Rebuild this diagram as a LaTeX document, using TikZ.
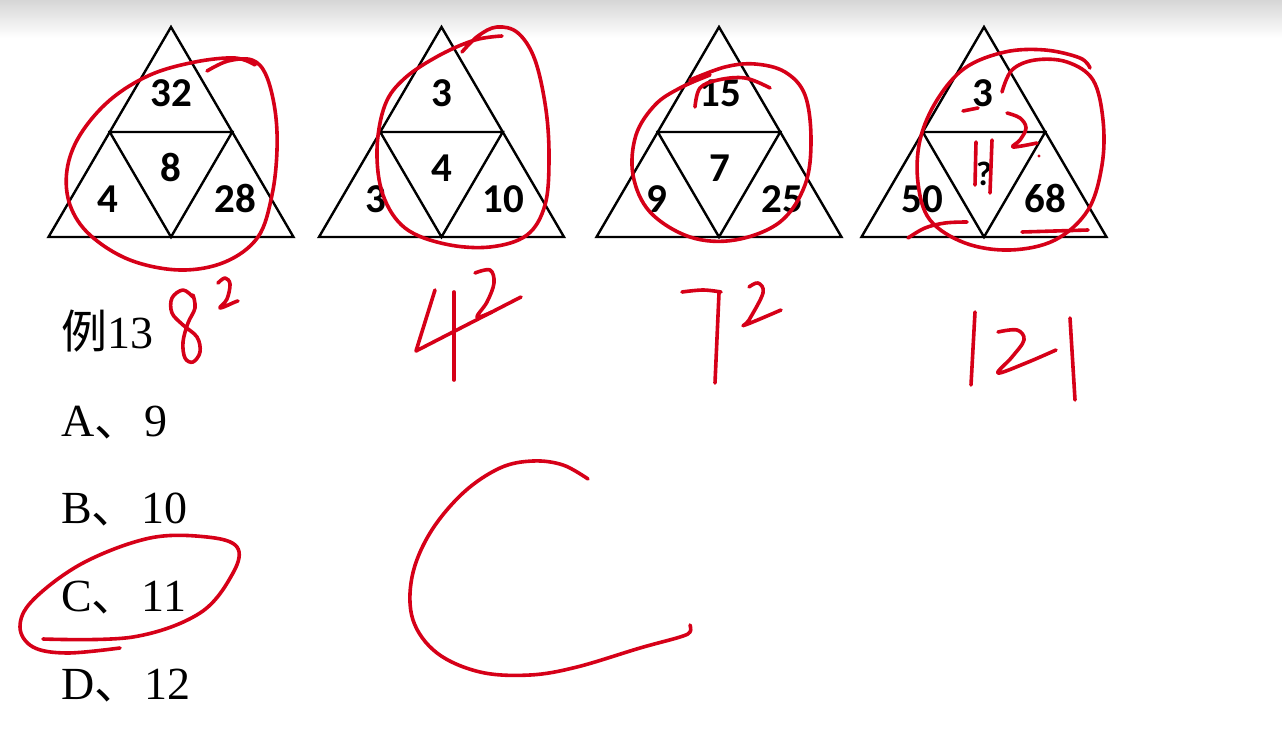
\documentclass[tikz,border=0pt]{standalone}
\usepackage{fontspec}
\setmainfont{Liberation Serif}
\newfontfamily\cjk{Noto Sans CJK SC}
\newfontfamily\calib{Carlito}
\definecolor{ink}{RGB}{214,0,24}
\newcommand{\dun}{{\cjk 、}\hspace{4pt}}
\begin{document}
\begin{tikzpicture}[x=1pt,y=-1pt,
  tri/.style={line width=2.4pt,line join=miter},
  num/.style={font=\calib\bfseries\fontsize{41}{41}\selectfont,anchor=base,inner sep=0pt},
  qm/.style={font=\calib\bfseries\fontsize{34}{34}\selectfont,anchor=base,inner sep=0pt},
  opt/.style={font=\fontsize{46}{46}\selectfont,anchor=base west,inner sep=0pt},
  hand/.style={draw=ink,line width=3.6pt,line cap=round,line join=round}]
\useasboundingbox (0,0) rectangle (1282,738);
\fill[white] (0,0) rectangle (1282,738);
\shade[top color=black!16,bottom color=white] (0,0) rectangle (1282,38);
% triangles
\foreach \cx in {171,441.5,719,984}{
  \draw[tri] (\cx,27) -- (\cx-122.5,237) -- (\cx+122.5,237) -- cycle;
  \draw[tri] (\cx-61.25,132) -- (\cx+61.25,132) -- (\cx,237) -- cycle;
}
% numbers
\node[num] (a1) at (171,107) {32};
\node[num] (a2) at (171,182) {8};
\node[num] (a3) at (108,213) {4};
\node[num] (a4) at (235,213) {28};
\node[num] (b1) at (442,107) {3};
\node[num] (b2) at (442,182) {4};
\node[num] (b3) at (376,213) {3};
\node[num] (b4) at (503,213) {10};
\node[num] (c1) at (720,107) {15};
\node[num] (c2) at (720,182) {7};
\node[num] (c3) at (657,213) {9};
\node[num] (c4) at (782,213) {25};
\node[num] (d1) at (983,107) {3};
\node[qm]  (d2) at (984,186) {?};
\node[num] (d3) at (922,213) {50};
\node[num] (d4) at (1045,213) {68};
% question text
\node[opt] (q)  at (61,348) {{\cjk 例}13};
\node[opt] (oA) at (61,436) {A\dun 9};
\node[opt] (oB) at (61,523) {B\dun 10};
\node[opt] (oC) at (61,611) {C\dun 11};
\node[opt] (oD) at (61,699) {D\dun 12};
% red handwriting
\draw[hand] plot[smooth,tension=0.6] coordinates {(207,71) (228,61) (252,60) (266,75) (275,110) (277,150) (272,195) (258,237) (225,262) (180,270) (130,260) (90,235) (70,205) (67,170) (80,135) (110,100) (150,75) (195,62) (235,58) (255,65)};
\draw[hand] plot[smooth,tension=0.6] coordinates {(462,52) (478,36) (497,27) (518,33) (535,60) (546,110) (549,160) (545,205) (527,235) (490,247) (445,244) (405,228) (383,195) (377,150) (385,105) (405,78) (440,55) (475,40) (502,36)};
\draw[hand] plot[smooth,tension=0.6] coordinates {(695,107) (700,88) (718,80) (745,78) (770,88)};
\draw[hand] plot[smooth,tension=0.6] coordinates {(690,80) (725,67) (755,64) (785,72) (805,95) (811,140) (805,185) (780,222) (735,240) (690,237) (650,212) (633,175) (636,135) (655,105) (680,88) (710,75)};
\draw[hand] plot[smooth,tension=0.6] coordinates {(1002,92) (1012,70) (1035,60) (1067,62) (1093,80) (1103,120) (1102,165) (1088,210) (1055,240) (1010,250) (965,243) (930,220) (918,183) (920,140) (937,100) (965,68) (1005,52) (1045,50) (1080,58) (1090,68)};
\draw[hand] (963,111) -- (978,108);
\draw[hand] plot[smooth,tension=0.6] coordinates {(1007,113) (1020,118) (1026,128) (1020,140) (1013,147) (1037,143)};
\fill[ink] (1039,156) circle (1.6);
\draw[hand] (976,142) -- (975,185);
\draw[hand] (992,140) -- (990,193);
\draw[hand] plot[smooth,tension=0.6] coordinates {(908,238) (925,228) (945,223) (967,222)};
\draw[hand] plot[smooth,tension=0.6] coordinates {(1022,232) (1055,231) (1088,230)};
% 8^2
\draw[hand] plot[smooth,tension=0.6] coordinates {(193,297) (183,290) (172,298) (172,313) (183,325) (197,337) (200,352) (193,362) (185,358) (183,342) (188,323) (195,308) (193,295)};
\draw[hand] plot[smooth,tension=0.6] coordinates {(218,283) (225,278) (230,284) (227,299) (220,308) (235,302) (238,301)};
% 4^2
\draw[hand] (435,290) -- (416,351) -- (521,297);
\draw[hand] (454,292) -- (454,380);
\draw[hand] plot[smooth,tension=0.6] coordinates {(475,273) (490,270) (494,283) (487,302) (477,317) (492,312)};
% 7^2
\draw[hand] plot[smooth,tension=0.6] coordinates {(682,292) (703,290) (721,292)};
\draw[hand] (719,293) -- (715,383);
\draw[hand] plot[smooth,tension=0.6] coordinates {(749,287) (758,283) (763,293) (749,320) (745,325) (781,310)};
% 121
\draw[hand] (975,312) -- (971,385);
\draw[hand] plot[smooth,tension=0.6] coordinates {(998,332) (1017,330) (1024,340) (1012,357) (998,373) (1026,363) (1056,350)};
\draw[hand] (1070,318) -- (1075,400);
% ellipse round C
\draw[hand] plot[smooth,tension=0.6] coordinates {(43,639) (133,637) (200,613) (233,573) (237,547) (207,537) (150,538) (83,563) (33,600) (20,627) (33,647) (67,653) (120,648)};
% big C
\draw[hand] plot[smooth,tension=0.6] coordinates {(588,479) (563,465) (533,461) (500,468) (463,493) (430,533) (412,577) (413,620) (437,653) (480,672) (530,675) (577,667) (640,648) (680,637) (690,632) (690,625)};
\end{tikzpicture}
\end{document}
